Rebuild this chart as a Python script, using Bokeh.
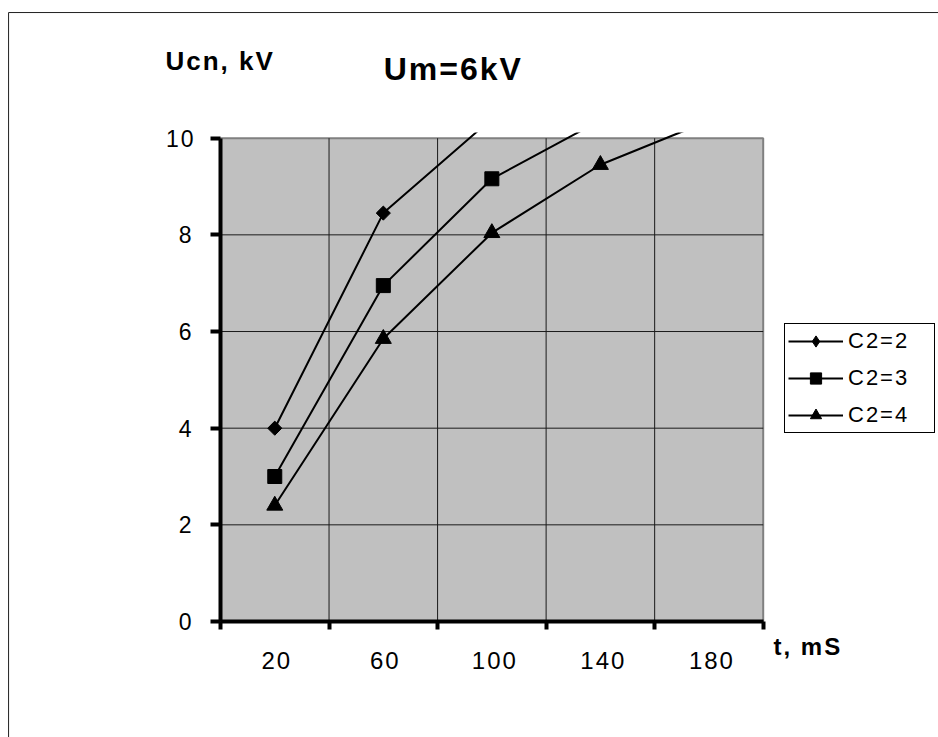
import math
from bokeh.plotting import figure
from bokeh.models import (Range1d, FixedTicker, BoxAnnotation, Label, Legend,
                          LegendItem, ColumnDataSource, LinearAxis)
from bokeh.embed import file_html
from bokeh.resources import INLINE

# ---- data ----
t_labels = [20, 60, 100, 140, 180]          # category centres (t, mS)
grid_x = [0, 40, 80, 120, 160, 200]         # category boundaries
y_ticks = [0, 2, 4, 6, 8, 10]
series_names = ["C2=2", "C2=3", "C2=4"]
c2_2 = [4.0, 8.45, 10.4]
c2_3 = [3.0, 6.95, 9.16, 10.37]
c2_4 = [2.4, 5.85, 8.04, 9.45, 10.36]

FONT = "Liberation Sans"
Y_CLIP = 10.12      # lines are cut a few pixels above the plot area

# whole canvas is the frame; axes are pinned with fixed_location
p = figure(width=938, height=737, output_backend="svg", toolbar_location=None,
           x_range=Range1d(-81.076, 264.60), y_range=Range1d(-2.400, 12.849),
           x_axis_location=None, y_axis_location=None,
           min_border=0, min_border_left=0, min_border_right=0,
           min_border_top=0, min_border_bottom=0,
           background_fill_color="white", border_fill_color="white")
p.outline_line_color = None
p.grid.visible = False
# the original chart draws its texts with wide character spacing
p.styles = {"letter-spacing": "2px"}

# outer chart border (only top / left visible in the window)
p.add_layout(BoxAnnotation(left=-78.1, right=400, top=12.6, bottom=-20,
                           fill_alpha=0, line_color="#202020", line_width=1,
                           line_alpha=1, level="underlay"))

# grey plot area
p.add_layout(BoxAnnotation(left=grid_x[0], right=grid_x[-1], bottom=y_ticks[0], top=y_ticks[-1],
                           fill_color="#c0c0c0", fill_alpha=1,
                           line_color="#808080", line_width=2, line_alpha=1,
                           level="underlay"))

# grid lines (limited to the plot area)
inner_x = grid_x[1:-1]
p.segment(x0=inner_x, x1=inner_x, y0=[y_ticks[0]] * len(inner_x), y1=[y_ticks[-1]] * len(inner_x),
          line_color="#1a1a1a", line_width=1)
inner_y = y_ticks[1:-1]
p.segment(x0=[grid_x[0]] * len(inner_y), x1=[grid_x[-1]] * len(inner_y), y0=inner_y, y1=inner_y,
          line_color="#1a1a1a", line_width=1)

# series: (plot marker, angle, size, legend marker)
marker_specs = [("square", math.pi / 4, 10, "diamond"),
                ("square", 0, 14, None),
                ("triangle", 0, 16, None)]
items = []
for name, vals, (mk, ang, sz, leg_mk) in zip(series_names, [c2_2, c2_3, c2_4], marker_specs):
    src = ColumnDataSource(dict(x=t_labels[:len(vals)], y=vals))
    lr = p.line("x", "y", source=src, line_color="black", line_width=2)
    sr = p.scatter("x", "y", source=src, marker=mk, angle=ang, size=sz,
                   fill_color="black", line_color="black")
    if leg_mk is not None:
        # legend swatch only (the legend does not rotate markers)
        sr_leg = p.scatter("x", "y", source=src, marker=leg_mk, size=sz,
                           fill_color="black", line_color="black", visible=False)
        items.append(LegendItem(label=name, renderers=[lr, sr_leg]))
    else:
        items.append(LegendItem(label=name, renderers=[lr, sr]))

# white mask: the chart cuts the series a little above the plot area
p.quad(left=[grid_x[0]], right=[grid_x[-1] + 2], bottom=[Y_CLIP], top=[12.5],
       fill_color="white", line_color=None)

# axes
xa = LinearAxis(fixed_location=0)
xa.ticker = FixedTicker(ticks=t_labels, minor_ticks=grid_x)
xa.bounds = (grid_x[0], grid_x[-1])
xa.axis_line_color = "black"
xa.axis_line_width = 4
xa.major_tick_in = 0
xa.major_tick_out = 0
xa.minor_tick_in = 0
xa.minor_tick_out = 8
xa.minor_tick_line_width = 4
xa.minor_tick_line_color = "black"
xa.major_label_text_font = FONT
xa.major_label_text_font_size = "24px"
xa.major_label_text_color = "black"
xa.major_label_standoff = 22
p.add_layout(xa, "below")

ya = LinearAxis(fixed_location=0)
ya.ticker = FixedTicker(ticks=y_ticks, minor_ticks=[])
ya.bounds = (y_ticks[0], y_ticks[-1])
ya.axis_line_color = "black"
ya.axis_line_width = 4
ya.major_tick_in = 0
ya.major_tick_out = 10
ya.major_tick_line_width = 4
ya.major_tick_line_color = "black"
ya.minor_tick_out = 0
ya.major_label_text_font = FONT
ya.major_label_text_font_size = "23px"
ya.major_label_text_color = "black"
ya.major_label_standoff = 19
p.add_layout(ya, "left")

legend = Legend(items=items, location=(784, 304),
                border_line_color="black", border_line_width=1, border_line_alpha=1,
                background_fill_color="white", background_fill_alpha=1,
                label_text_font=FONT, label_text_font_size="22px", label_text_color="black",
                glyph_width=55, glyph_height=28, label_height=28, label_width=83,
                label_standoff=5, padding=3, spacing=9, margin=0)
p.add_layout(legend, "center")

# texts
p.add_layout(Label(x=83.6, y=11.44, text="Um=6kV", text_font=FONT, text_font_style="bold",
                   text_font_size="32px", text_align="center", text_baseline="alphabetic",
                   text_color="black"))
p.add_layout(Label(x=-20.3, y=11.59, text="Ucn, kV", text_font=FONT, text_font_style="bold",
                   text_font_size="26px", text_align="left", text_baseline="alphabetic",
                   text_color="black"))
p.add_layout(Label(x=203.8, y=-0.517, text="t, mS", text_font=FONT, text_font_style="bold",
                   text_font_size="24px", text_align="left", text_baseline="alphabetic",
                   text_color="black"))

open("out.html", "w").write(file_html(p, INLINE))
